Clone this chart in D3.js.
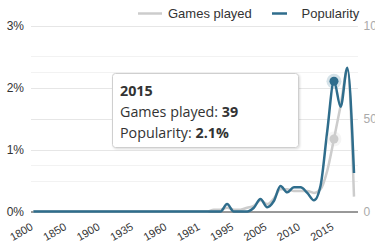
<!DOCTYPE html>
<html>
<head>
<meta charset="utf-8">
<script src="https://cdn.jsdelivr.net/npm/d3@7"></script>
<style>
  body { margin: 0; background: #fff; }
  svg { display: block; font-family: "Liberation Sans", Arial, sans-serif; }
</style>
</head>
<body>
<div id="chart"></div>
<script>
// data: one entry per category on the x axis
const years = [
  1800, 1810, 1820, 1830, 1840, 1850, 1860, 1870, 1880, 1890,
  1900, 1907, 1914, 1921, 1928, 1935, 1940, 1945, 1950, 1955,
  1960, 1965, 1970, 1975, 1978, 1981, 1984, 1987, 1990, 1993,
  1995, 1997, 1999, 2001, 2003, 2005, 2006, 2007, 2008, 2009,
  2010, 2011, 2012, 2013, 2014, 2015, 2016, 2017, 2018
]
// games played (right axis)
const gamesPlayed = [
  0, 0, 0, 0, 0, 0, 0, 0, 0, 0,
  0, 0, 0, 0, 0, 0, 0, 0, 0, 0,
  0, 0, 0, 0, 0, 0, 0, 1, 1, 2,
  1, 1, 2, 3, 6, 4, 7, 12, 12, 11,
  11, 11, 10, 12, 22, 39, 57, 76, 8
]
// popularity in % (left axis)
const popularity = [
  0, 0, 0, 0, 0, 0, 0, 0, 0, 0,
  0, 0, 0, 0, 0, 0, 0, 0, 0, 0,
  0, 0, 0, 0, 0, 0, 0, 0, 0, 0.12,
  0, 0, 0, 0.06, 0.2, 0.07, 0.17, 0.41, 0.31, 0.39,
  0.39, 0.3, 0.18, 0.42, 1.3, 2.1, 1.69, 2.32, 0.62
]
const leftTicks = [0, 1, 2, 3]
const leftMinor = [0.5, 1.5, 2.5]
const rightTicks = [0, 50, 100]
const rightMinor = [25, 75]
const labelEvery = 5
const hoverYear = 2015

/** CONSTANTS */
const width = 375
const height = 252
const plot = { left: 31, right: 358, top: 25.5, bottom: 211.5 }
const blue = "#2f6d8c"
const grey = "#cccccc"

/** SCALES */
const xScale = d3.scalePoint()
  .domain(years)
  .range([33.4, 354])

const yLeft = d3.scaleLinear()
  .domain([0, 3])
  .range([plot.bottom, plot.top])

const yRight = d3.scaleLinear()
  .domain([0, 100])
  .range([plot.bottom, plot.top])

const svg = d3.select("#chart")
  .append("svg")
  .attr("width", width)
  .attr("height", height)

// gridlines, minor ones first
const grid = svg.append("g")
grid.selectAll("line.minor")
  .data(leftMinor.map(yLeft).concat(rightMinor.map(yRight)))
  .join("line")
  .attr("class", "minor")
  .attr("x1", plot.left).attr("x2", plot.right)
  .attr("y1", d => Math.round(d) + 0.5).attr("y2", d => Math.round(d) + 0.5)
  .attr("stroke", "#f2f2f2")
grid.selectAll("line.major")
  .data(leftTicks.slice(1).map(yLeft).concat(rightTicks.slice(1, 2).map(yRight)))
  .join("line")
  .attr("class", "major")
  .attr("x1", plot.left).attr("x2", plot.right)
  .attr("y1", d => Math.round(d) + 0.5).attr("y2", d => Math.round(d) + 0.5)
  .attr("stroke", "#e6e6e6")

// axis line
svg.append("line")
  .attr("x1", plot.left).attr("x2", plot.right)
  .attr("y1", plot.bottom + 0.5).attr("y2", plot.bottom + 0.5)
  .attr("stroke", "#333")

// left labels
svg.selectAll("text.left")
  .data(leftTicks)
  .join("text")
  .attr("class", "left")
  .attr("x", 24)
  .attr("y", d => yLeft(d))
  .attr("dy", "0.35em")
  .attr("text-anchor", "end")
  .attr("font-size", 12)
  .attr("fill", "#333")
  .text(d => d + "%")

// right labels
svg.selectAll("text.right")
  .data(rightTicks)
  .join("text")
  .attr("class", "right")
  .attr("x", 363.5)
  .attr("y", d => yRight(d))
  .attr("dy", "0.35em")
  .attr("font-size", 12)
  .attr("fill", "#aaa")
  .text(d => d)

// x labels, every 5th category
svg.selectAll("text.year")
  .data(years.filter((d, i) => i % labelEvery === 0))
  .join("text")
  .attr("class", "year")
  .attr("transform", d => `translate(${xScale(d) + 0.5},${229}) rotate(-30)`)
  .attr("text-anchor", "end")
  .attr("font-size", 11)
  .attr("fill", "#333")
  .text(d => d)

// lines
const gamesLine = d3.line()
  .x((d, i) => xScale(years[i]))
  .y(d => yRight(d))
  .curve(d3.curveMonotoneX)

const popLine = d3.line()
  .x((d, i) => xScale(years[i]))
  .y(d => yLeft(d))
  .curve(d3.curveMonotoneX)

svg.append("path")
  .datum(gamesPlayed)
  .attr("d", gamesLine)
  .attr("fill", "none")
  .attr("stroke", grey)
  .attr("stroke-width", 2.5)
  .attr("stroke-linejoin", "round")

svg.append("path")
  .datum(popularity)
  .attr("d", popLine)
  .attr("fill", "none")
  .attr("stroke", blue)
  .attr("stroke-width", 2.5)
  .attr("stroke-linejoin", "round")

// hover markers
const hi = years.indexOf(hoverYear)
const hx = xScale(hoverYear)
const markers = [
  { y: yRight(gamesPlayed[hi]), color: grey },
  { y: yLeft(popularity[hi]), color: blue }
]
svg.selectAll("circle.halo")
  .data(markers)
  .join("circle")
  .attr("class", "halo")
  .attr("cx", hx).attr("cy", d => d.y)
  .attr("r", 7.5)
  .attr("fill", d => d.color)
  .attr("opacity", 0.2)
svg.selectAll("circle.dot")
  .data(markers)
  .join("circle")
  .attr("class", "dot")
  .attr("cx", hx).attr("cy", d => d.y)
  .attr("r", 4.5)
  .attr("fill", d => d.color)

// tooltip
const defs = svg.append("defs")
const shadow = defs.append("filter").attr("id", "shadow")
  .attr("x", "-10%").attr("y", "-10%").attr("width", "130%").attr("height", "140%")
shadow.append("feDropShadow")
  .attr("dx", 1).attr("dy", 1).attr("stdDeviation", 1.2)
  .attr("flood-color", "#000").attr("flood-opacity", 0.15)

const tip = svg.append("g").attr("transform", "translate(112.5,73.5)")
tip.append("rect")
  .attr("width", 186).attr("height", 74)
  .attr("rx", 3)
  .attr("fill", "#fff")
  .attr("stroke", "#cfcfcf")
  .attr("filter", "url(#shadow)")

const tipText = tip.append("g")
  .attr("font-family", "'Open Sans', 'Noto Sans', sans-serif")
  .attr("font-size", 14.3)
  .attr("fill", "#333")
tipText.append("text")
  .attr("x", 7.5).attr("y", 22)
  .attr("font-weight", "bold")
  .text(hoverYear)
const t1 = tipText.append("text").attr("x", 7.5).attr("y", 43.5)
t1.append("tspan").text("Games played: ")
t1.append("tspan").attr("font-weight", "bold").text(gamesPlayed[hi])
const t2 = tipText.append("text").attr("x", 7.5).attr("y", 64)
t2.append("tspan").text("Popularity: ")
t2.append("tspan").attr("font-weight", "bold").text(popularity[hi] + "%")

// legend
const legend = [
  { name: "Games played", color: grey, x1: 138, x2: 162, tx: 168 },
  { name: "Popularity", color: blue, x1: 272, x2: 287, tx: 301.5 }
]
svg.selectAll("line.legend")
  .data(legend)
  .join("line")
  .attr("class", "legend")
  .attr("x1", d => d.x1).attr("x2", d => d.x2)
  .attr("y1", 13.5).attr("y2", 13.5)
  .attr("stroke", d => d.color)
  .attr("stroke-width", 2.5)
svg.selectAll("text.legend")
  .data(legend)
  .join("text")
  .attr("class", "legend")
  .attr("x", d => d.tx)
  .attr("y", 18)
  .attr("font-size", 13)
  .attr("fill", "#333")
  .text(d => d.name)
</script>
</body>
</html>
